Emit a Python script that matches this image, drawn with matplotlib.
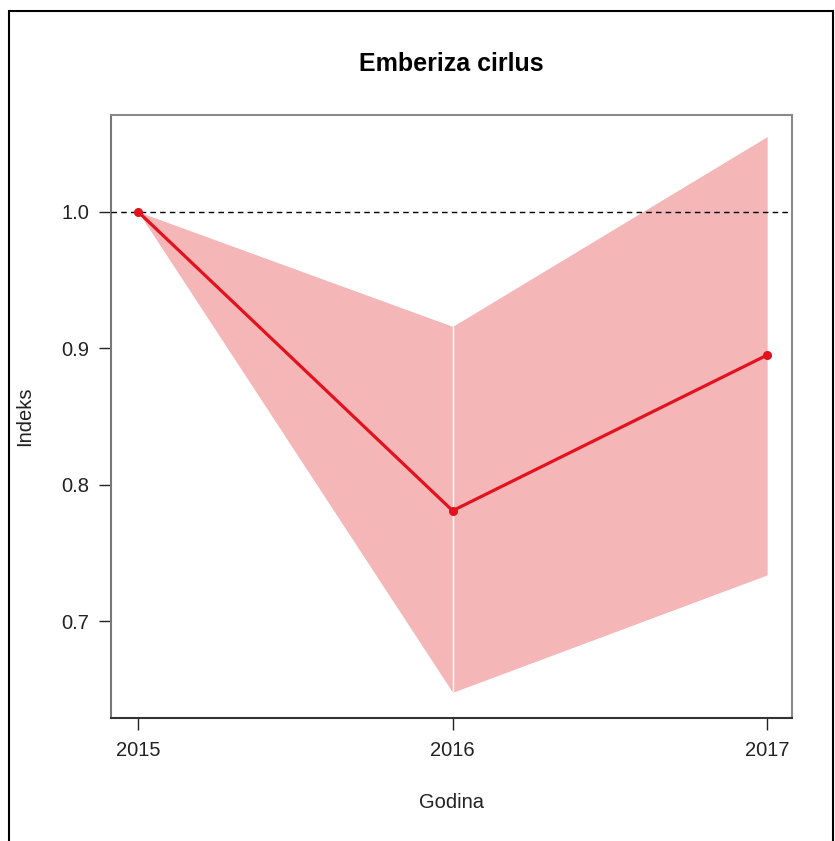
import matplotlib
matplotlib.use("Agg")
import matplotlib.pyplot as plt
from matplotlib.patches import Rectangle

plt.rcParams['font.family'] = ['Liberation Sans', 'DejaVu Sans']

years = [2015, 2016, 2017]
index_vals = [1.0, 0.781, 0.895]
upper_vals = [1.0, 0.916, 1.055]
lower_vals = [1.0, 0.648, 0.734]
yticks = [0.7, 0.8, 0.9, 1.0]
title = "Emberiza cirlus"

W, H = 835, 841
fig = plt.figure(figsize=(W / 100, H / 100), dpi=100)
ax = fig.add_axes([111 / W, 1 - 718 / H, (792 - 111) / W, (718 - 115) / H])

band = "#F5B6B8"
line_c = "#E2121F"
for i in range(len(years) - 1):
    ax.fill_between(years[i:i + 2], lower_vals[i:i + 2], upper_vals[i:i + 2],
                    color=band, linewidth=0, zorder=1)
ax.vlines(years[1], lower_vals[1], upper_vals[1], color="white", lw=1.0, zorder=2)
ax.axhline(1.0, color="black", lw=1.0, ls=(0, (4, 3)), zorder=3)
ax.plot(years, index_vals, color=line_c, lw=2.3, marker="o", ms=5.5,
        zorder=4, solid_capstyle="round")

ax.set_xlim(2014.914, 2017.079)
ax.set_ylim(0.6292, 1.0708)
ax.set_xticks(years)
ax.set_xticklabels([str(y) for y in years])
ax.set_yticks(yticks)
ax.set_yticklabels([f"{v:.1f}" for v in yticks])
ax.tick_params(direction="out", length=8.5, width=1, labelsize=14.5, colors="#222222")
ax.tick_params(axis="x", pad=8)
ax.tick_params(axis="y", pad=7)

for s in ["top", "right"]:
    ax.spines[s].set_color("#8a8a8a")
    ax.spines[s].set_linewidth(1.5)
ax.spines["left"].set_color("#777777")
ax.spines["left"].set_linewidth(1.5)
ax.spines["bottom"].set_color("#333333")
ax.spines["bottom"].set_linewidth(1.5)

ax.set_xlabel("Godina", fontsize=14.5, color="#222222")
ax.set_ylabel("Indeks", fontsize=14.5, color="#222222")
ax.xaxis.set_label_coords(0.5, (718 - 803) / 603)
ax.yaxis.set_label_coords((25 - 111) / 681, 0.5)
ax.xaxis.label.set_va("center")
ax.yaxis.label.set_va("center")
fig.text(0.5 * (111 + 792) / W, 1 - 64 / H, title, ha="center", va="center",
         fontsize=18, fontweight="bold")

fig.patches.append(Rectangle((9 / W, -0.05), (833 - 9) / W, 1.05 - 11 / H,
                             transform=fig.transFigure, fill=False,
                             edgecolor="black", lw=1.5))

fig.savefig("out.png", dpi=100)
